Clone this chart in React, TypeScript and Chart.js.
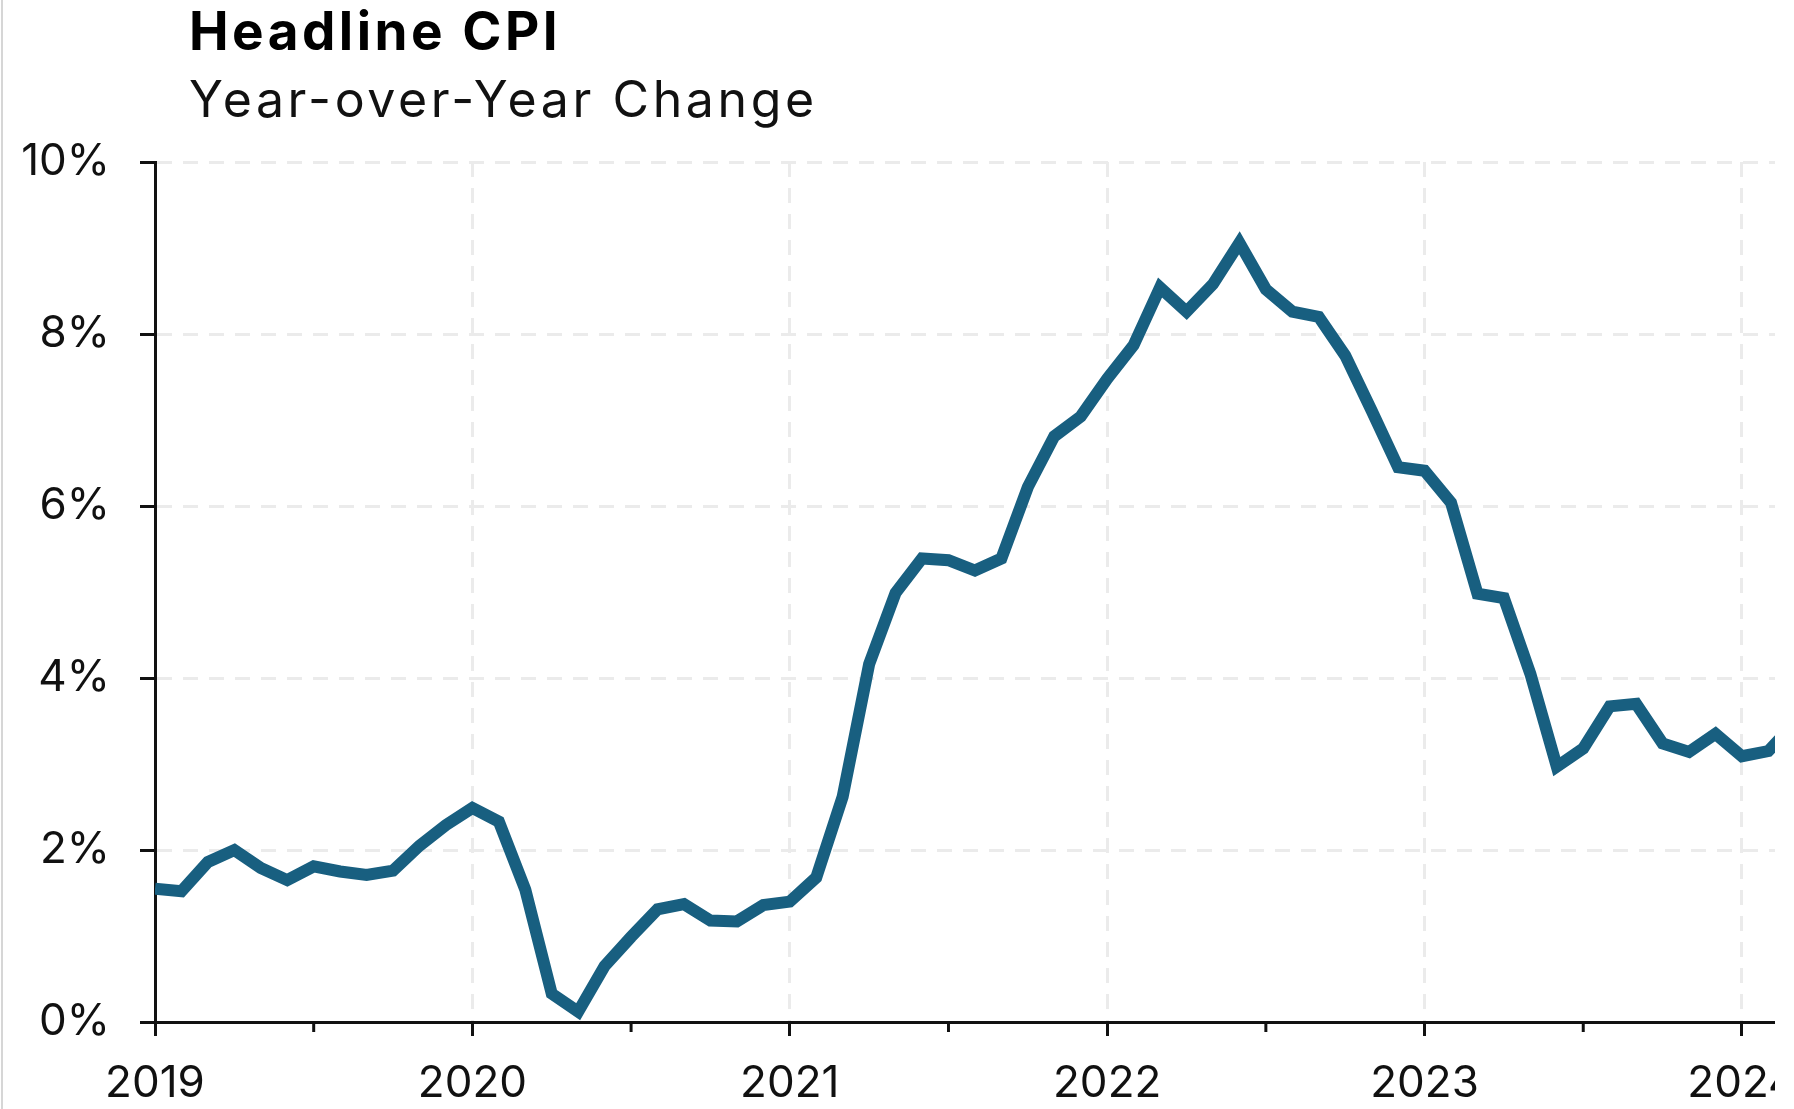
import React, { useEffect, useRef } from 'react';
import { Chart, registerables } from 'chart.js';

Chart.register(...registerables);

// ---- Data ----
const months = [
  '2019-01', '2019-02', '2019-03', '2019-04', '2019-05', '2019-06', '2019-07', '2019-08', '2019-09', '2019-10', '2019-11', '2019-12',
  '2020-01', '2020-02', '2020-03', '2020-04', '2020-05', '2020-06', '2020-07', '2020-08', '2020-09', '2020-10', '2020-11', '2020-12',
  '2021-01', '2021-02', '2021-03', '2021-04', '2021-05', '2021-06', '2021-07', '2021-08', '2021-09', '2021-10', '2021-11', '2021-12',
  '2022-01', '2022-02', '2022-03', '2022-04', '2022-05', '2022-06', '2022-07', '2022-08', '2022-09', '2022-10', '2022-11', '2022-12',
  '2023-01', '2023-02', '2023-03', '2023-04', '2023-05', '2023-06', '2023-07', '2023-08', '2023-09', '2023-10', '2023-11', '2023-12',
  '2024-01', '2024-02', '2024-03',
];

const cpiYoY = [
  1.55, 1.52, 1.86, 2.0, 1.79, 1.65, 1.81, 1.75, 1.71, 1.76, 2.05, 2.29,
  2.49, 2.33, 1.54, 0.33, 0.12, 0.65, 0.99, 1.31, 1.37, 1.18, 1.17, 1.36,
  1.4, 1.68, 2.62, 4.16, 4.99, 5.39, 5.37, 5.25, 5.39, 6.22, 6.81, 7.04,
  7.48, 7.87, 8.54, 8.26, 8.58, 9.06, 8.52, 8.26, 8.2, 7.75, 7.11, 6.45,
  6.41, 6.04, 4.98, 4.93, 4.05, 2.97, 3.18, 3.67, 3.7, 3.24, 3.14, 3.35,
  3.09, 3.15, 3.48,
];

const yearLabels = ['2019', '2020', '2021', '2022', '2023', '2024'];
const yTickValues = [0, 2, 4, 6, 8, 10];

const titleText = 'Headline CPI';
const subtitleText = 'Year-over-Year Change';

// ---- Styling ----
const FONT = 'Inter, "Noto Sans", sans-serif';
const LINE_COLOR = '#185f80';
const GRID_COLOR = '#ebebeb';
const AXIS_COLOR = '#111111';
const BASE_YEAR = Number(yearLabels[0]);

const monthIndex = (m: string) => {
  const [y, mm] = m.split('-').map(Number);
  return (y - BASE_YEAR) * 12 + (mm - 1);
};

const minorTickPlugin = {
  id: 'minorTicks',
  afterDraw(chart: any) {
    const xs = chart.scales.x;
    const ctx = chart.ctx;
    const bottom = chart.chartArea.bottom;
    ctx.save();
    ctx.strokeStyle = AXIS_COLOR;
    ctx.lineWidth = 3;
    months.forEach((m) => {
      if (m.endsWith('-07')) {
        const x = xs.getPixelForValue(monthIndex(m));
        ctx.beginPath();
        ctx.moveTo(x, bottom);
        ctx.lineTo(x, bottom + 10);
        ctx.stroke();
      }
    });
    ctx.restore();
  },
};

export default function App() {
  const canvasRef = useRef<HTMLCanvasElement | null>(null);

  useEffect(() => {
    document.body.style.margin = '0';
    const canvas = canvasRef.current;
    if (!canvas) return;
    const points = months.map((m, i) => ({ x: monthIndex(m), y: cpiYoY[i] }));

    const chart = new Chart(canvas, {
      type: 'line',
      data: {
        datasets: [
          {
            label: 'Headline CPI',
            data: points,
            borderColor: LINE_COLOR,
            backgroundColor: LINE_COLOR,
            borderWidth: 12,
            pointRadius: 0,
            pointHoverRadius: 0,
            tension: 0,
            fill: false,
            clip: { left: 0, right: 0, top: 10, bottom: 10 } as any,
          },
        ],
      },
      options: {
        animation: false,
        responsive: false,
        devicePixelRatio: 1,
        layout: { padding: { top: 162, left: 0, right: 0, bottom: 0 } },
        plugins: {
          legend: { display: false },
          tooltip: { enabled: false },
          title: { display: false },
        },
        scales: {
          x: {
            type: 'linear',
            min: 0,
            max: 61.25,
            afterFit: (s: any) => {
              s.height = 87;
              s.paddingRight = 0;
              s.paddingLeft = 0;
            },
            ticks: {
              stepSize: 12,
              includeBounds: false,
              autoSkip: false,
              maxRotation: 0,
              padding: 21,
              color: AXIS_COLOR,
              font: { family: FONT, size: 44 },
              callback: (v: any) => {
                const n = Number(v);
                return n % 12 === 0 ? yearLabels[n / 12] ?? '' : '';
              },
            },
            grid: {
              color: GRID_COLOR,
              lineWidth: 3,
              tickColor: AXIS_COLOR,
              tickWidth: 3,
              tickLength: 14,
            },
            border: { color: AXIS_COLOR, width: 3, dash: [15, 11] },
          },
          y: {
            min: yTickValues[0],
            max: yTickValues[yTickValues.length - 1],
            afterFit: (s: any) => {
              s.width = 155;
            },
            ticks: {
              stepSize: 2,
              padding: 30,
              color: AXIS_COLOR,
              font: { family: FONT, size: 44 },
              callback: (v: any) => `${v}%`,
            },
            grid: {
              color: GRID_COLOR,
              lineWidth: 3,
              tickColor: AXIS_COLOR,
              tickWidth: 3,
              tickLength: 15,
            },
            border: { color: AXIS_COLOR, width: 3, dash: [15, 11] },
          },
        },
      },
      plugins: [minorTickPlugin],
    });
    return () => chart.destroy();
  }, []);

  return (
    <div style={{ position: 'relative', width: 1794, height: 1109, background: '#fff', overflow: 'hidden' }}>
      <div style={{ position: 'absolute', left: 1, top: 0, width: 2, height: 1109, background: '#d6d6d6' }} />
      <canvas ref={canvasRef} width={1775} height={1109} style={{ position: 'absolute', left: 0, top: 0, width: 1775, height: 1109 }} />
      <div
        style={{
          position: 'absolute', left: 189, top: 5, fontFamily: FONT, fontWeight: 700,
          fontSize: 53, lineHeight: '53px', color: '#000', whiteSpace: 'nowrap', letterSpacing: '3.5px',
        }}
      >
        {titleText}
      </div>
      <div
        style={{
          position: 'absolute', left: 189, top: 74, fontFamily: FONT, fontWeight: 400,
          fontSize: 50, lineHeight: '50px', color: '#111', whiteSpace: 'nowrap', letterSpacing: '3.6px',
        }}
      >
        {subtitleText}
      </div>
    </div>
  );
}
